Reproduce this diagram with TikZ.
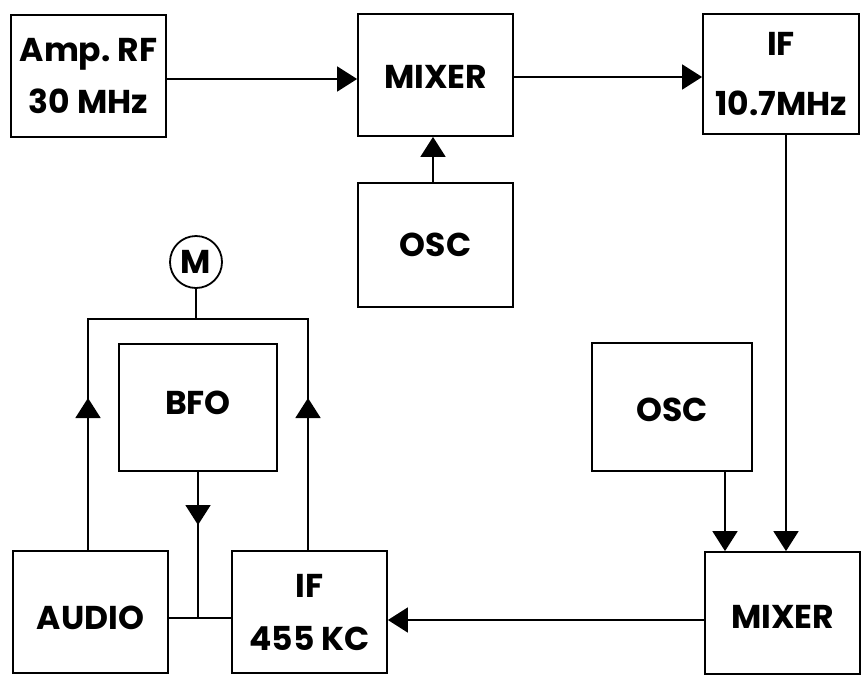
\documentclass[tikz,border=0pt]{standalone}
\usepackage{fontspec}
\setmainfont{Poppins}
\usetikzlibrary{arrows.meta}
\begin{document}
\begin{tikzpicture}[x=1pt,y=-1pt,line width=1.8pt,
  txt/.style={font=\bfseries\fontsize{33}{52}\selectfont},
  blk/.style={draw,rectangle,minimum width=155pt,minimum height=122pt,inner sep=0pt,align=center,txt},
  lower/.style={text height=#1,text depth=0pt},
  raise/.style={text height=23pt,text depth=#1},
  arr/.style={-{Triangle[length=20pt,width=25pt]}}]
\useasboundingbox (0,0) rectangle (861,675);
% blocks
\node[blk] (amp) at (88.5,76) {Amp.\ RF\\30 MHz};
\node[blk,lower=27pt] (mixa) at (435.5,75) {MIXER};
\node[blk,minimum width=156pt,minimum height=120pt,font=\bfseries\fontsize{33}{60}\selectfont] (ifa) at (781,74) {IF\\10.7MHz};
\node[blk,minimum height=124pt] (osca) at (435.5,245) {OSC};
\node[blk,minimum width=158pt,minimum height=127pt,raise=10pt] (bfo) at (198,407.5) {BFO};
\node[blk,minimum width=160pt,minimum height=128pt,lower=29pt] (oscb) at (672,407) {OSC};
\node[blk,lower=35pt] (audio) at (90.5,612) {AUDIO};
\node[blk,font=\bfseries\fontsize{33}{53}\selectfont] (ifb) at (309.5,612) {IF\\455 KC};
\node[blk,lower=31pt] (mixb) at (782.5,613) {MIXER};
\node[draw,circle,minimum size=52pt,inner sep=0pt,txt] (m) at (196,262) {M};
% connectors
\draw[arr] ([yshift=-3pt]amp.east) -- ([yshift=-3pt]amp.east -| mixa.west);
\draw[arr] ([yshift=-2pt]mixa.east) -- ([yshift=-2pt]mixa.east -| ifa.west);
\draw[arr] ([xshift=-2.5pt]osca.north) -- ([xshift=-2.5pt]mixa.south);
\draw[arr] ([xshift=5pt]ifa.south) -- ([xshift=3.5pt]mixb.north);
\draw[arr] ([xshift=53pt]oscb.south) -- ([xshift=53pt]oscb.south |- mixb.north);
\draw[arr] ([yshift=-7pt]mixb.west) -- ([yshift=-7pt]mixb.west -| ifb.east);
% meter loop
\coordinate (tl) at (88,319);
\coordinate (tr) at (308,319);
\coordinate (tipl) at (88,398);
\coordinate (tipr) at (308,398);
\draw (audio.north -| tl) -- (tl) -- (tr) -- (ifb.north -| tr);
\draw[arr] (audio.north -| tl) -- (tipl);
\draw[arr] (ifb.north -| tr) -- (tipr);
\draw (m.south) -- (m.south |- tl);
% BFO injection
\coordinate (j) at (198,618);
\coordinate (tipb) at (198,525);
\draw (bfo.south) -- (j);
\draw[arr] (bfo.south) -- (tipb);
\draw (audio.east |- j) -- (ifb.west |- j);
\end{tikzpicture}
\end{document}
